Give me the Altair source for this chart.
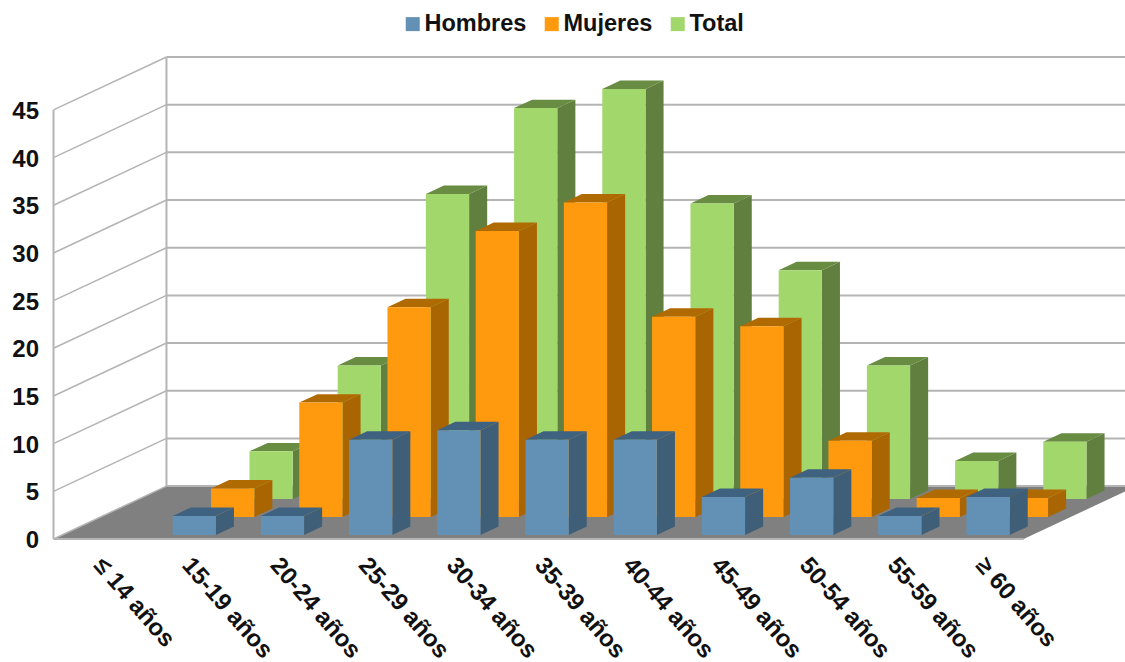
import altair as alt
import pandas as pd

# Participants by age group and sex
categories = ["≤ 14 años", "15-19 años", "20-24 años", "25-29 años", "30-34 años", "35-39 años",
              "40-44 años", "45-49 años", "50-54 años", "55-59 años", "≥ 60 años"]
hombres = [0, 2, 2, 10, 11, 10, 10, 4, 6, 2, 4]
mujeres = [0, 3, 12, 22, 30, 33, 21, 20, 8, 2, 2]
total = [0, 5, 14, 32, 41, 43, 31, 24, 14, 4, 6]
ticks = [0, 5, 10, 15, 20, 25, 30, 35, 40, 45]

series = ["Hombres", "Mujeres", "Total"]
front_colors = ["#6391b5", "#ff9a0e", "#a2d76c"]
side_colors = ["#3f5f78", "#a96502", "#61803f"]
top_colors = ["#3e6280", "#b06a02", "#678c42"]
rows = [hombres, mujeres, total]

# Oblique projection: one unit of depth moves a point right (in categories) and up (in value units)
DEPTH_X = 1.281
DEPTH_Y = 5.55
BAR_WIDTH = 0.49
BAR_MARGIN = 0.255
BAR_DEPTH = 0.16
ROW_DEPTHS = [0.075, 0.415, 0.755]
N = len(categories)

x_scale = alt.Scale(domain=[0, 12.149], nice=False, zero=False)
y_scale = alt.Scale(domain=[0, 50.55], nice=False, zero=False)


def X(field, **kw):
    return alt.X(field, type="quantitative", scale=x_scale, title=None, **kw)


def Y(field, **kw):
    return alt.Y(field, type="quantitative", scale=y_scale, title=None, **kw)


LINE = "#b4b4b4"

# Axes only: value labels on the left, age groups under the floor
names = "[" + ",".join(f"'{c}'" for c in categories) + "]"
axes = alt.Chart(pd.DataFrame({"x": [0], "y": [0]})).mark_point(opacity=0).encode(
    x=X("x", axis=alt.Axis(values=[i + 0.5 for i in range(N)], labelExpr=f"{names}[floor(datum.value)]",
                           labelAngle=49, labelAlign="left", labelBaseline="middle", labelPadding=22,
                           labelFont="Liberation Sans", labelFontWeight="bold", labelFontSize=24,
                           labelColor="#111111", domain=False, ticks=False, grid=False, labelOverlap=False,
                           labelBound=False, labelFlush=False)),
    y=Y("y", axis=alt.Axis(values=ticks, labelPadding=15, labelOffset=1.5, labelFont="Liberation Sans",
                           labelFontWeight="bold", labelFontSize=24, labelColor="#111111", domain=False,
                           ticks=False, grid=False, labelOverlap=False)),
)

# Floor of the box
floor_df = pd.DataFrame([
    {"y": 0, "x": 0, "x2": N},
    {"y": DEPTH_Y, "x": DEPTH_X, "x2": N + DEPTH_X},
])
floor = alt.Chart(floor_df).mark_area(orient="horizontal", color="#808080").encode(
    x=X("x"), x2="x2:Q", y=Y("y"),
)

# Gridlines on the back wall and their continuation on the side wall
back_df = pd.DataFrame({"y": [t + DEPTH_Y for t in ticks], "x": [DEPTH_X] * len(ticks), "x2": [N + DEPTH_X] * len(ticks)})
back = alt.Chart(back_df).mark_rule(color=LINE, strokeWidth=2).encode(x=X("x"), x2="x2:Q", y=Y("y"))

side_df = pd.DataFrame({"x": [0] * len(ticks), "x2": [DEPTH_X] * len(ticks), "y": ticks,
                        "y2": [t + DEPTH_Y for t in ticks]})
side_wall = alt.Chart(side_df).mark_rule(color=LINE, strokeWidth=1.5).encode(
    x=X("x"), x2="x2:Q", y=Y("y"), y2="y2:Q")

edge_df = pd.DataFrame([
    {"x": 0, "x2": 0, "y": 0, "y2": ticks[-1]},
    {"x": DEPTH_X, "x2": DEPTH_X, "y": DEPTH_Y, "y2": ticks[-1] + DEPTH_Y},
])
edges = alt.Chart(edge_df).mark_rule(color=LINE, strokeWidth=2).encode(
    x=X("x"), x2="x2:Q", y=Y("y"), y2="y2:Q")
front_edge = alt.Chart(pd.DataFrame({"x": [0], "x2": [N], "y": [0]})).mark_rule(color=LINE, strokeWidth=2).encode(
    x=X("x"), x2="x2:Q", y=Y("y"))

color_scale = alt.Scale(domain=series, range=front_colors)


def bar_layers(k):
    """Front, side and top faces of every bar in one series."""
    fronts, sides, tops = [], [], []
    z = ROW_DEPTHS[k]
    for i, value in enumerate(rows[k]):
        if value == 0:
            continue
        x0 = i + BAR_MARGIN + z * DEPTH_X
        x1 = x0 + BAR_WIDTH
        base = z * DEPTH_Y
        top = base + value
        dx = BAR_DEPTH * DEPTH_X
        dy = BAR_DEPTH * DEPTH_Y
        fronts.append({"x": x0, "x2": x1, "y": base, "y2": top, "Serie": series[k]})
        sides.append({"bar": i, "x": x1, "y": base, "y2": top})
        sides.append({"bar": i, "x": x1 + dx, "y": base + dy, "y2": top + dy})
        tops.append({"bar": i, "y": top, "x": x0, "x2": x1})
        tops.append({"bar": i, "y": top + dy, "x": x0 + dx, "x2": x1 + dx})
    side = alt.Chart(pd.DataFrame(sides)).mark_area(orient="vertical", color=side_colors[k]).encode(
        x=X("x"), y=Y("y"), y2="y2:Q", detail="bar:N")
    cap = alt.Chart(pd.DataFrame(tops)).mark_area(orient="horizontal", color=top_colors[k]).encode(
        x=X("x"), x2="x2:Q", y=Y("y"), detail="bar:N")
    front = alt.Chart(pd.DataFrame(fronts)).mark_rect().encode(
        x=X("x"), x2="x2:Q", y=Y("y"), y2="y2:Q",
        color=alt.Color("Serie:N", scale=color_scale, legend=alt.Legend(
            title=None, orient="none", direction="horizontal", legendX=347.5, legendY=-45,
            symbolType="square", symbolSize=196, symbolStrokeWidth=0, labelFont="Liberation Sans",
            labelFontWeight="bold", labelFontSize=23.5, labelColor="#111111", labelOffset=0, columnPadding=13)),
    )
    return [side, cap, front]


layers = [floor, back, side_wall, edges, front_edge]
for k in (2, 1, 0):
    layers += bar_layers(k)
layers.append(axes)

chart = alt.layer(*layers).properties(
    width=1071.5,
    height=482,
    padding={"left": 53.5, "top": 57, "right": 0, "bottom": 123},
    autosize=alt.AutoSizeParams(type="none"),
    background="white",
).configure_view(stroke=None)

chart.save("out.html", embed_options={"renderer": "svg", "actions": False})
